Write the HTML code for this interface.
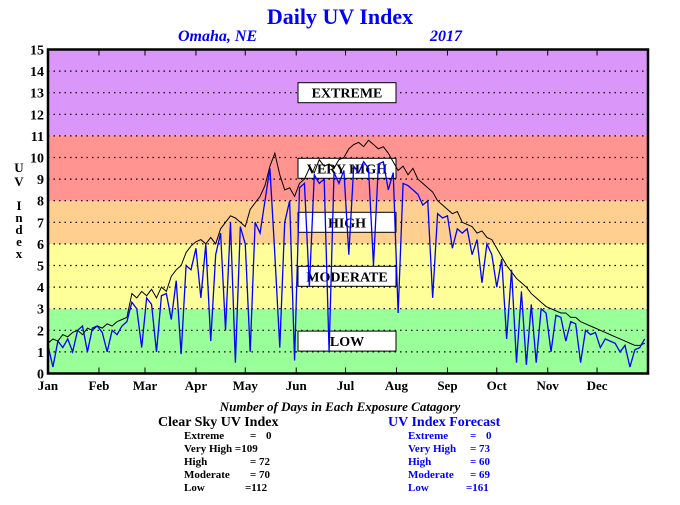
<!DOCTYPE html>
<html><head><meta charset="utf-8"><style>
body{margin:0;background:#fff;}
svg text{font-family:"Liberation Serif",serif;font-weight:bold;}
</style></head><body>
<svg id="chart" width="680" height="500" xmlns="http://www.w3.org/2000/svg">
<g id="bands"></g>
<g id="grid"></g>
<g id="boxes"></g>
<g id="series"></g>
<g id="axes"></g>
<text x="340" y="24" text-anchor="middle" font-size="22" fill="#0000ff">Daily UV Index</text>
<text x="178" y="41" font-size="16" font-style="italic" fill="#0000ff">Omaha, NE</text>
<text x="430" y="41" font-size="16" font-style="italic" fill="#0000ff">2017</text>
<g font-size="13" text-anchor="middle">
<text x="19" y="172">U</text><text x="19" y="186">V</text>
<text x="19" y="210">I</text><text x="19" y="222">n</text><text x="19" y="234">d</text><text x="19" y="246">e</text><text x="19" y="258">x</text>
</g>
<text x="340" y="411" text-anchor="middle" font-size="13" font-style="italic">Number of Days in Each Exposure Catagory</text>
<g font-size="11">
<text x="158" y="426" font-size="14">Clear Sky UV Index</text>
<text x="184" y="439">Extreme</text><text x="250" y="439">=</text><text x="266" y="439">0</text>
<text x="184" y="452">Very High =109</text>
<text x="184" y="465">High</text><text x="250" y="465">=  72</text>
<text x="184" y="478">Moderate</text><text x="250" y="478">=  70</text>
<text x="184" y="491">Low</text><text x="245" y="491">=112</text>
</g>
<g font-size="11" fill="#0000ff">
<text x="388" y="426" font-size="14">UV Index Forecast</text>
<text x="408" y="439">Extreme</text><text x="470" y="439">=</text><text x="486" y="439">0</text>
<text x="408" y="452">Very High</text><text x="470" y="452">=  73</text>
<text x="408" y="465">High</text><text x="470" y="465">=  60</text>
<text x="408" y="478">Moderate</text><text x="470" y="478">=  69</text>
<text x="408" y="491">Low</text><text x="466" y="491">=161</text>
</g>
</svg>
<script>
const monthLabels=["Jan","Feb","Mar","Apr","May","Jun","Jul","Aug","Sep","Oct","Nov","Dec"];
const monthStartDays=[0,31,59,90,120,151,181,212,243,273,304,334];
const yTicks=[0,1,2,3,4,5,6,7,8,9,10,11,12,13,14,15];
const bandLimits=[0,3,6,8,11,15];
const bandColors=["#99ff99","#ffff99","#ffcf90","#ff9490","#da96f9"];
const categoryNames=["LOW","MODERATE","HIGH","VERY HIGH","EXTREME"];
const categoryLevels=[1.5,4.5,7,9.5,13];
const clearStep=3;
const clearSky=[1.4,1.6,1.5,1.8,1.7,1.9,2.0,1.8,2.1,2.0,2.2,
2.1,2.3,2.2,2.4,2.5,2.6,3.7,3.5,3.8,
3.6,3.9,3.5,4.0,3.8,4.5,4.8,5.0,5.6,5.9,6.1,
6.2,6.0,6.3,6.0,6.7,7.0,7.3,7.2,7.0,
6.8,7.6,7.9,8.2,8.7,9.6,10.2,9.2,8.5,8.6,8.2,
8.8,9.0,9.5,9.3,9.9,9.6,9.7,9.5,9.9,10.0,
10.4,10.6,10.7,10.5,10.8,10.6,10.4,10.5,10.2,9.8,
9.4,9.6,9.2,9.5,9.0,8.8,8.6,8.4,8.0,7.8,
7.6,7.4,7.5,7.0,6.9,6.8,6.5,6.6,6.3,6.2,
5.8,5.4,5.0,4.7,4.4,4.2,4.0,3.7,3.5,3.3,
3.1,3.0,2.9,2.8,2.8,2.6,2.6,2.4,2.3,2.2,
2.1,2.0,1.9,1.8,1.7,1.6,1.5,1.4,1.3,1.3,1.4];
const forecastStep=3;
const forecast=[1.3,0.3,1.5,1.2,1.6,1.0,2.0,2.2,1.0,2.1,2.2,
1.9,1.0,2.0,1.8,2.2,2.4,3.3,3.0,1.2,
3.5,3.2,1.0,3.6,3.7,2.5,4.3,0.9,5.0,4.8,5.8,
3.5,6.0,1.5,5.5,6.5,2.0,7.0,0.5,6.8,
6.0,1.0,7.0,6.5,8.0,9.5,5.5,1.2,7.0,8.0,0.6,
8.6,8.8,4.0,9.2,8.8,9.0,1.0,9.3,8.8,9.4,
5.5,9.6,9.3,9.8,9.5,5.0,9.7,9.8,8.5,9.3,
2.8,8.8,8.7,8.5,8.3,7.8,8.0,3.5,7.4,7.2,
7.3,5.8,6.7,6.5,6.7,5.5,6.2,4.2,6.0,5.5,
4.0,5.3,1.6,4.8,0.5,3.8,0.4,3.2,0.5,3.0,
2.8,1.0,2.7,2.6,1.5,2.4,2.3,0.5,2.0,1.8,
1.9,1.2,1.6,1.5,1.4,1.0,1.3,0.3,1.1,1.2,1.6];

const NS="http://www.w3.org/2000/svg";
const L=48,R=648,T=49.5,B=373.5;
const xs=d=>L+Math.min(d,365)*(R-L)/365;
const ys=v=>B-v*(B-T)/15;
function mk(tag,attrs,parent){const e=document.createElementNS(NS,tag);for(const k in attrs)e.setAttribute(k,attrs[k]);parent.appendChild(e);return e;}
const bands=document.getElementById('bands');
for(let i=0;i<bandColors.length;i++){
 const r=mk('rect',{x:L,y:ys(bandLimits[i+1]),width:R-L,height:ys(bandLimits[i])-ys(bandLimits[i+1]),fill:bandColors[i]},bands);
 
 
}
const grid=document.getElementById('grid');
yTicks.forEach(v=>{
 if(v>0&&v<15){const l=mk('line',{x1:L,x2:R,y1:ys(v),y2:ys(v),stroke:'#000','stroke-width':1.2,'stroke-dasharray':'1.5,4'},grid);
 
 }
});
const boxes=document.getElementById('boxes');
categoryNames.forEach((n,i)=>{
 const cy=ys(categoryLevels[i]);
 const r=mk('rect',{x:298,y:cy-10,width:98,height:20,fill:'#fff',stroke:'#000','stroke-width':1},boxes);
 
 
 const t=mk('text',{x:347,y:cy+5,'text-anchor':'middle','font-size':14},boxes);
 t.textContent=n;
 
 
});
const series=document.getElementById('series');
const blk=mk('polyline',{fill:'none',stroke:'#000','stroke-width':1,points:clearSky.map((v,i)=>xs(i*clearStep)+','+ys(v)).join(' ')},series);


const blu=mk('polyline',{fill:'none',stroke:'#0000ff','stroke-width':1.3,points:forecast.map((v,i)=>xs(i*forecastStep)+','+ys(v)).join(' ')},series);


const axes=document.getElementById('axes');
const fr=mk('rect',{x:L,y:T,width:R-L,height:B-T,fill:'none',stroke:'#000','stroke-width':2.5},axes);


yTicks.forEach(v=>{
 const t=mk('text',{x:44,y:ys(v)+5,'text-anchor':'end','font-size':14},axes);
 t.textContent=v;
 
 
});
monthLabels.forEach((m,i)=>{
 const x=xs(monthStartDays[i]);
 const t=mk('text',{x:x,y:390,'text-anchor':'middle','font-size':13},axes);
 t.textContent=m;
 
 
 if(i>0){
  const a=mk('line',{x1:x,x2:x,y1:T,y2:T+6,stroke:'#000','stroke-width':1},axes);
  
  
  const b=mk('line',{x1:x,x2:x,y1:B,y2:B-6,stroke:'#000','stroke-width':1},axes);
  
  
 }
});
</script>
</body></html>
